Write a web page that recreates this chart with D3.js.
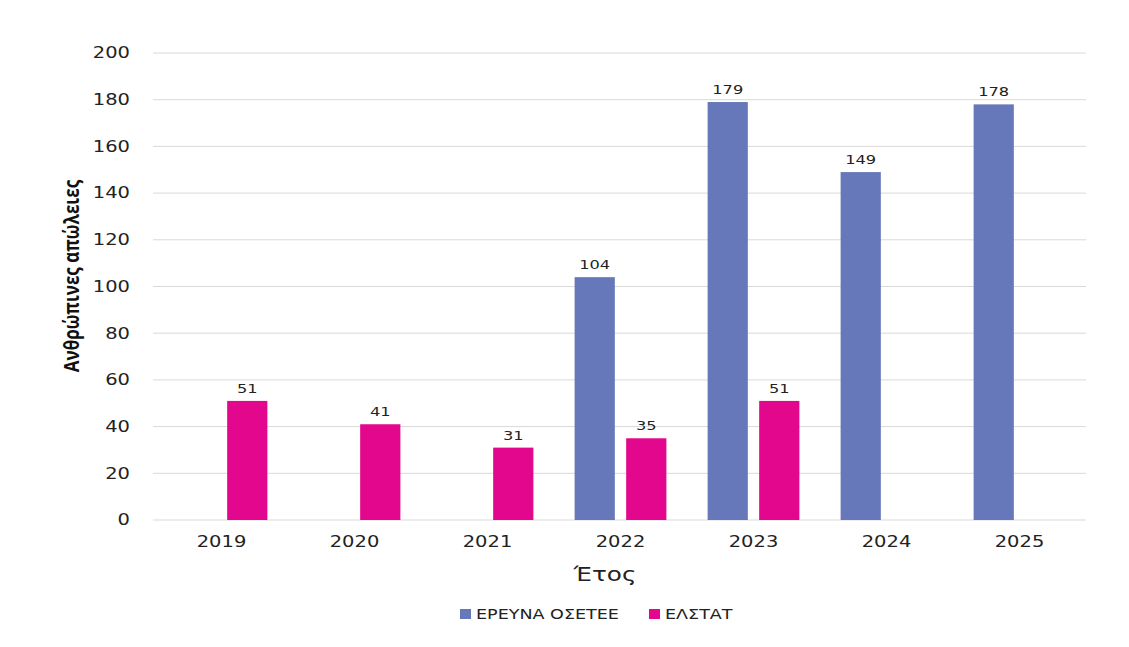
<!DOCTYPE html>
<html>
<head>
<meta charset="utf-8">
<script src="https://cdn.jsdelivr.net/npm/d3@7"></script>
<style>
  html, body { margin: 0; padding: 0; background: #fff; }
  svg { display: block; }
</style>
</head>
<body>
<div id="mainDiv"></div>
<script>
'use strict';

// data
var years = ['2019', '2020', '2021', '2022', '2023', '2024', '2025'];
var seriesNames = ['ΕΡΕΥΝΑ ΟΣΕΤΕΕ', 'ΕΛΣΤΑΤ'];
var osetee = [null, null, null, 104, 179, 149, 178];
var elstat = [51, 41, 31, 35, 51, null, null];
var yTicks = [0, 20, 40, 60, 80, 100, 120, 140, 160, 180, 200];
var colors = ['#6778BA', '#E2078C'];

var chart = {};

// the reference picture is stretched sideways, so we draw narrow and stretch the svg
chart.S = 1.3;
chart.W = 1129;
chart.H = 647;

chart.run = function() {
    var S = chart.S;
    var vw = chart.W / S;
    var svg = d3.select('#mainDiv').append('svg')
        .attr('width', chart.W)
        .attr('height', chart.H)
        .attr('viewBox', '0 0 ' + vw + ' ' + chart.H)
        .attr('preserveAspectRatio', 'none');

    var left = 155 / S, right = 1086 / S, top = 53, bottom = 520;

    var x = d3.scaleBand().domain(years).range([left, right])
        .paddingInner(0.31).paddingOuter(0.155);
    var xSub = d3.scaleBand().domain(seriesNames).range([0, x.bandwidth()])
        .paddingInner(0.22);
    var y = d3.scaleLinear().domain([0, 200]).range([bottom, top]);

    // grid
    svg.append('g').selectAll('line')
        .data(yTicks).enter().append('line')
        .attr('x1', left - 2 / S).attr('x2', right)
        .attr('y1', function(d){ return y(d); })
        .attr('y2', function(d){ return y(d); })
        .attr('stroke', '#d9d9d9')
        .attr('stroke-width', 1)
        .attr('vector-effect', 'non-scaling-stroke');

    // y axis labels
    var yAxis = d3.axisLeft(y).tickValues(yTicks).tickSize(0).tickPadding(0);
    var yg = svg.append('g')
        .attr('transform', 'translate(' + (130 / S) + ',0)')
        .call(yAxis);
    yg.select('.domain').remove();
    yg.selectAll('text')
        .attr('font-family', 'DejaVu Sans, sans-serif')
        .attr('font-size', 15)
        .attr('fill', '#222');

    // x axis labels
    var xAxis = d3.axisBottom(x).tickSize(0).tickPadding(0);
    var xg = svg.append('g')
        .attr('transform', 'translate(0,' + 536 + ')')
        .call(xAxis);
    xg.select('.domain').remove();
    xg.selectAll('text')
        .attr('font-family', 'DejaVu Sans, sans-serif')
        .attr('font-size', 15)
        .attr('fill', '#222');

    // bars
    var rows = years.map(function(yr, i) {
        return [
            { year: yr, series: seriesNames[0], value: osetee[i], c: colors[0] },
            { year: yr, series: seriesNames[1], value: elstat[i], c: colors[1] }
        ];
    });
    var flat = [].concat.apply([], rows).filter(function(d){ return d.value !== null; });

    svg.append('g').selectAll('rect')
        .data(flat).enter().append('rect')
        .attr('x', function(d){ return x(d.year) + xSub(d.series); })
        .attr('width', xSub.bandwidth())
        .attr('y', function(d){ return y(d.value); })
        .attr('height', function(d){ return y(0) - y(d.value); })
        .attr('fill', function(d){ return d.c; });

    svg.append('g').selectAll('text')
        .data(flat).enter().append('text')
        .attr('x', function(d){ return x(d.year) + xSub(d.series) + xSub.bandwidth() / 2; })
        .attr('y', function(d){ return y(d.value) - 8; })
        .attr('text-anchor', 'middle')
        .attr('font-family', 'DejaVu Sans, sans-serif')
        .attr('font-size', 12.5)
        .attr('fill', '#222')
        .text(function(d){ return d.value; });

    // axis titles
    svg.append('text')
        .attr('transform', 'translate(' + (79 / S) + ',' + 276 + ') rotate(-90)')
        .attr('text-anchor', 'middle')
        .attr('font-family', 'Open Sans, sans-serif')
        .attr('font-weight', 'bold')
        .attr('font-size', 17)
        .attr('fill', '#111')
        .text('Ανθρώπινες απώλειες');

    svg.append('text')
        .attr('x', 605 / S).attr('y', 581)
        .attr('text-anchor', 'middle')
        .attr('font-family', 'DejaVu Sans, sans-serif')
        .attr('font-size', 19)
        .attr('fill', '#222')
        .text('Έτος');

    // legend
    var legendX = [460, 649];
    var lg = svg.append('g').selectAll('g')
        .data(seriesNames).enter().append('g')
        .attr('transform', function(d, i){ return 'translate(' + (legendX[i] / S) + ',609)'; });
    lg.append('rect')
        .attr('width', 11 / S).attr('height', 10)
        .attr('fill', function(d, i){ return colors[i]; });
    lg.append('text')
        .attr('x', 16 / S).attr('y', 10)
        .attr('font-family', 'DejaVu Sans, sans-serif')
        .attr('font-size', 13.5)
        .attr('fill', '#222')
        .text(function(d){ return d; });
};

window.onload = function() {
    chart.run();
};
</script>
</body>
</html>
